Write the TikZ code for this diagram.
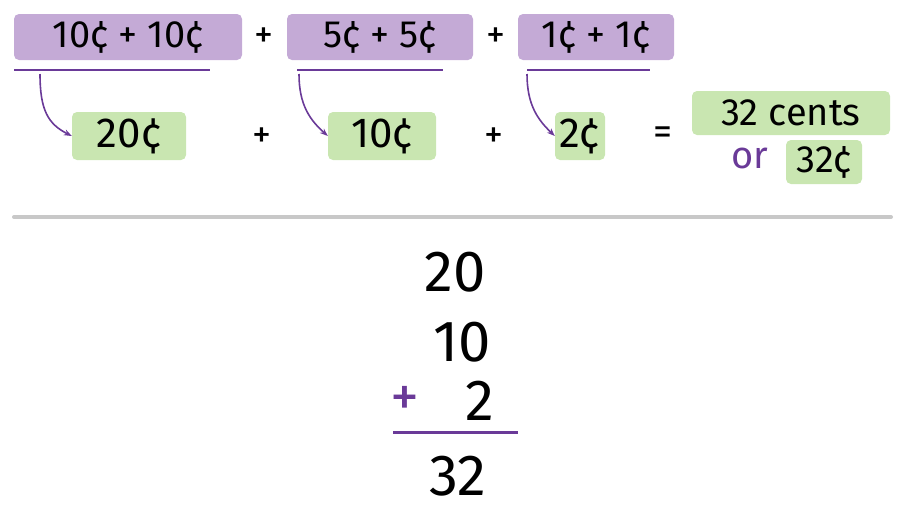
\documentclass[tikz,border=0pt]{standalone}
\usepackage{fontspec}
\usetikzlibrary{arrows.meta}
\setmainfont{Fira Sans}
\definecolor{pbox}{HTML}{C4AAD6}
\definecolor{gbox}{HTML}{C9E6B1}
\definecolor{pline}{HTML}{6A3A98}
\definecolor{gline}{HTML}{C8C8C8}
\begin{document}
\begin{tikzpicture}[x=1pt,y=-1pt,
  pb/.style={fill=pbox,rounded corners=5pt,inner sep=0pt,text=black,font=\fontsize{38}{40}\selectfont},
  gb/.style={fill=gbox,rounded corners=5pt,inner sep=0pt,text=black,font=\fontsize{42}{44}\selectfont},
  tx/.style={text=black,font=\fontsize{38}{40}\selectfont},
  big/.style={text=black,font=\fontsize{58}{60}\selectfont},
  arr/.style={pline,line width=1.6pt,-{Stealth[length=8pt]}},
  ul/.style={pline,line width=1.6pt}]
\useasboundingbox (0,0) rectangle (904,504);
\node[pb,minimum width=228,minimum height=46] (b1) at (128,37) {10¢ + 10¢};
\node[pb,minimum width=186,minimum height=46] (b2) at (380,37) {5¢ + 5¢};
\node[pb,minimum width=156,minimum height=46] (b3) at (596,37) {1¢ + 1¢};
\node[tx] (p1) at (264,38) {+};
\node[tx] (p2) at (496,38) {+};
\coordinate (u1a) at (14,70); \coordinate (u1b) at (210,70);
\coordinate (u2a) at (297,70); \coordinate (u2b) at (443,70);
\coordinate (u3a) at (527,70); \coordinate (u3b) at (650,70);
\draw[ul] (u1a) -- (u1b); \draw[ul] (u2a) -- (u2b); \draw[ul] (u3a) -- (u3b);
\node[gb,minimum width=114,minimum height=48] (g1) at (129,136) {20¢};
\node[gb,minimum width=108,minimum height=48] (g2) at (382,136) {10¢};
\node[gb,minimum width=50,minimum height=48] (g3) at (580,136) {2¢};
\coordinate (a1) at (40,74); \coordinate (a2) at (299,74); \coordinate (a3) at (527,74);
\draw[arr] (a1) .. controls (40,110) and (48,124) .. (g1.west);
\draw[arr] (a2) .. controls (299,105) and (310,120) .. (g2.west);
\draw[arr] (a3) .. controls (527,105) and (538,120) .. (g3.west);
\node[tx] (p3) at (262,138) {+};
\node[tx] (p4) at (494,138) {+};
\node[tx] (eq) at (663,136) {=};
\node[gb,minimum width=198,minimum height=44,font=\fontsize{38}{40}\selectfont] (c1) at (791,113) {32 cents};
\node[text=pline,font=\fontsize{38}{40}\selectfont] (or) at (750,158) {or};
\node[gb,minimum width=76,minimum height=44,font=\fontsize{38}{40}\selectfont] (c2) at (824,162) {32¢};
\coordinate (h1) at (14,217); \coordinate (h2) at (891,217);
\draw[gline,line width=4pt,line cap=round] (h1) -- (h2);
\node[big] (n1) at (455,272) {20};
\node[big] (n2) at (462,342) {10};
\node[big,text=pline] (pl) at (405,401) {+};
\node[big] (n3) at (480,401) {2};
\coordinate (s1) at (393,432); \coordinate (s2) at (518,432);
\draw[pline,line width=3pt] (s1) -- (s2);
\node[big] (n4) at (458,476) {32};
\end{tikzpicture}
\end{document}
